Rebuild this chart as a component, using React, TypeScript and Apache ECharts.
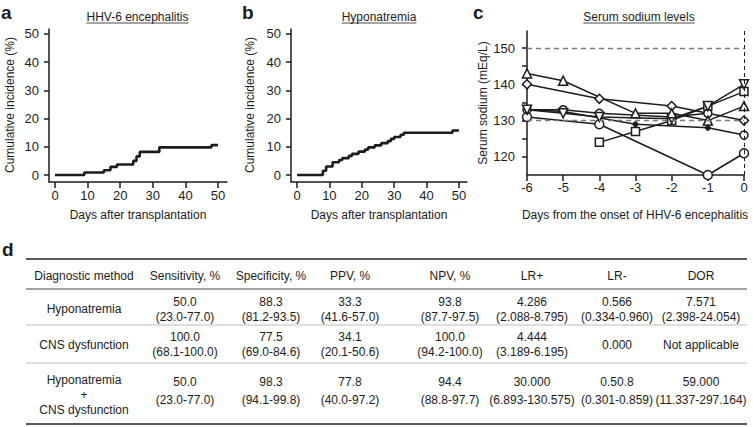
import React, { useEffect, useRef } from 'react';
import * as echarts from 'echarts';

// ---- Data ----
const aDays = [0, 9, 15, 17, 19, 24, 25, 26, 32, 48, 50];
const aIncidence = [0, 0.9, 1.7, 2.9, 3.7, 5.0, 6.6, 8.2, 9.8, 10.6, 10.6];
const bDays = [0, 8, 9, 11, 13, 14, 16, 17, 19, 21, 22, 24, 26, 28, 29, 30, 32, 33, 48, 50];
const bIncidence = [0, 1.5, 3.0, 4.5, 5.3, 6.0, 6.8, 7.5, 8.3, 9.0, 9.8, 10.5, 11.3, 12.0, 12.8, 13.5, 14.3, 15.0, 15.8, 15.8];
const incidenceTicks = [0, 10, 20, 30, 40, 50];
const dayTicks = [0, 10, 20, 30, 40, 50];

const sodiumDays = [-6, -5, -4, -3, -2, -1, 0];
const naTriUp = [143, 141, null, 132, 132, 130, 134];
const naDiamond = [140, null, 136, null, 134, null, 130];
const naTriDown = [133, 132, 131, null, 130.5, 134, 140];
const naSquare = [null, null, 124, 127, 130, 134, 138];
const naCircleA = [131, null, 129, null, null, 115, 121];
const naCircleB = [133, 133, 132, null, 131, 132, null];
const naFilled = [133, 132.5, null, 129, null, 128, 126];
const sodiumTicks = [120, 125, 130, 135, 140, 145, 150];
const sodiumLabels = [120, 130, 140, 150];
const sodiumRefLines = [150, 130];

const tableHeaders = ['Diagnostic method', 'Sensitivity, %', 'Specificity, %', 'PPV, %', 'NPV, %', 'LR+', 'LR-', 'DOR'];
const tableMethods = [['Hyponatremia'], ['CNS dysfunction'], ['Hyponatremia', '+', 'CNS dysfunction']];
const tableEstimates = [
  ['50.0', '88.3', '33.3', '93.8', '4.286', '0.566', '7.571'],
  ['100.0', '77.5', '34.1', '100.0', '4.444', '0.000', 'Not applicable'],
  ['50.0', '98.3', '77.8', '94.4', '30.000', '0.50.8', '59.000'],
];
const tableIntervals = [
  ['(23.0-77.0)', '(81.2-93.5)', '(41.6-57.0)', '(87.7-97.5)', '(2.088-8.795)', '(0.334-0.960)', '(2.398-24.054)'],
  ['(68.1-100.0)', '(69.0-84.6)', '(20.1-50.6)', '(94.2-100.0)', '(3.189-6.195)', '', ''],
  ['(23.0-77.0)', '(94.1-99.8)', '(40.0-97.2)', '(88.8-97.7)', '(6.893-130.575)', '(0.301-0.859)', '(11.337-297.164)'],
];

const FONT = '"Liberation Sans", Arial, Helvetica, sans-serif';
const INK = '#1c1c1c';

function measure(text: string, size: number) {
  const c = document.createElement('canvas').getContext('2d');
  if (!c) return text.length * size * 0.55;
  c.font = `${size}px ${FONT}`;
  return c.measureText(text).width;
}

export default function App() {
  const ref = useRef<HTMLDivElement>(null);
  useEffect(() => {
    if (!ref.current) return;
    const chart = echarts.init(ref.current, undefined, { renderer: 'svg' });

    const axisLine = { show: true, onZero: false, lineStyle: { color: INK, width: 1.5 } };
    const axisLabelBase = { color: INK, fontSize: 13, fontFamily: FONT };

    const pair = (xs: number[], ys: (number | null)[]) =>
      xs.map((x, i) => [x, ys[i]]).filter((p) => p[1] !== null);

    const markerSeries = (ys: (number | null)[], symbol: string, size: number, extra: any = {}) => ({
      type: 'line',
      xAxisIndex: 2,
      yAxisIndex: 2,
      data: pair(sodiumDays, ys),
      symbol,
      symbolSize: size,
      showSymbol: true,
      lineStyle: { color: INK, width: 1.5 },
      itemStyle: { color: '#fff', borderColor: INK, borderWidth: 1.5 },
      z: 3,
      ...extra,
    });

    const filledData = pair(sodiumDays, naFilled).map((p, i, arr) =>
      i === arr.length - 1
        ? { value: p, symbol: 'circle', symbolSize: 8, itemStyle: { color: '#fff', borderColor: INK, borderWidth: 1.5 } }
        : { value: p }
    );

    // graphic elements
    const g: any[] = [];
    const txt = (text: string, x: number, y: number, size: number, opts: any = {}) =>
      g.push({
        type: 'text',
        x,
        y,
        rotation: opts.rotation || 0,
        style: {
          text,
          fontSize: size,
          fontFamily: FONT,
          fontWeight: opts.bold ? 'bold' : 'normal',
          fill: INK,
          align: opts.align || 'center',
          verticalAlign: 'middle',
        },
      });
    const line = (x1: number, y1: number, x2: number, y2: number, color: string, w: number) =>
      g.push({ type: 'line', shape: { x1, y1, x2, y2 }, style: { stroke: color, lineWidth: w } });

    // panel letters
    txt('a', 1, 12, 19, { bold: true, align: 'left' });
    txt('b', 242, 12, 19, { bold: true, align: 'left' });
    txt('c', 473, 12, 19, { bold: true, align: 'left' });
    txt('d', 2, 249, 19, { bold: true, align: 'left' });

    // titles with underline
    const titles: [string, number][] = [
      ['HHV-6 encephalitis', 137.5],
      ['Hyponatremia', 379],
      ['Serum sodium levels', 639],
    ];
    titles.forEach(([t, cx]) => {
      txt(t, cx, 17, 12);
      const w = measure(t, 12);
      line(cx - w / 2, 23, cx + w / 2, 23, INK, 0.8);
    });

    // axis names
    txt('Cumulative incidence (%)', 10, 105, 12, { rotation: Math.PI / 2 });
    txt('Cumulative incidence (%)', 250, 105, 12, { rotation: Math.PI / 2 });
    txt('Serum sodium (mEq/L)', 483, 103, 12, { rotation: Math.PI / 2 });
    txt('Days after transplantation', 138, 215, 12);
    txt('Days after transplantation', 379, 215, 12);
    txt('Days from the onset of HHV-6 encephalitis', 635, 215, 12);

    // table
    const colX = [84, 185, 271, 350, 450, 532, 617, 701];
    const tableLeft = 26;
    const tableRight = 747;
    line(tableLeft, 259, tableRight, 259, '#222', 1.6);
    tableHeaders.forEach((h, i) => txt(h, colX[i], 276, 12));
    line(tableLeft, 289, tableRight, 289, '#444', 1);
    const line1Y = [302, 337, 382];
    const line2Y = [317, 352, 400];
    const centerY = [309, 345, 395];
    const methodLineGap = 15;
    tableMethods.forEach((lines, r) => {
      const start = centerY[r] - ((lines.length - 1) * methodLineGap) / 2;
      lines.forEach((l, k) => txt(l, colX[0], start + k * methodLineGap, 12));
      tableEstimates[r].forEach((v, c) => {
        const iv = tableIntervals[r][c];
        if (iv) {
          txt(v, colX[c + 1], line1Y[r], 12);
          txt(iv, colX[c + 1], line2Y[r], 12);
        } else {
          txt(v, colX[c + 1], centerY[r], 12);
        }
      });
    });
    line(tableLeft, 325, tableRight, 325, '#bdbdbd', 1);
    line(tableLeft, 363, tableRight, 363, '#bdbdbd', 1);
    line(tableLeft, 424, tableRight, 424, '#222', 1.6);

    const option: any = {
      animation: false,
      backgroundColor: '#fff',
      grid: [
        { left: 49, top: 29, width: 178, height: 153 },
        { left: 291, top: 29, width: 176, height: 153 },
        { left: 527, top: 31, width: 217, height: 144 },
      ],
      xAxis: [
        {
          type: 'value', gridIndex: 0, min: -1.84, max: 52.76,
          axisLine, splitLine: { show: false },
          axisTick: { show: true, length: 6, customValues: dayTicks, lineStyle: { color: INK, width: 1.5 } },
          axisLabel: { ...axisLabelBase, margin: 7, customValues: dayTicks },
        },
        {
          type: 'value', gridIndex: 1, min: -1.85, max: 52.5,
          axisLine, splitLine: { show: false },
          axisTick: { show: true, length: 6, customValues: dayTicks, lineStyle: { color: INK, width: 1.5 } },
          axisLabel: { ...axisLabelBase, margin: 7, customValues: dayTicks },
        },
        {
          type: 'value', gridIndex: 2, min: -6, max: 0, interval: 1,
          axisLine, splitLine: { show: false },
          axisTick: { show: true, length: 6, lineStyle: { color: INK, width: 1.5 } },
          axisLabel: { ...axisLabelBase, margin: 6 },
        },
      ],
      yAxis: [
        {
          type: 'value', gridIndex: 0, min: -2.48, max: 51.77,
          axisLine, splitLine: { show: false },
          axisTick: { show: true, length: 5, customValues: incidenceTicks, lineStyle: { color: INK, width: 1.5 } },
          axisLabel: { ...axisLabelBase, margin: 10, customValues: incidenceTicks },
        },
        {
          type: 'value', gridIndex: 1, min: -2.48, max: 51.77,
          axisLine, splitLine: { show: false },
          axisTick: { show: true, length: 5, customValues: incidenceTicks, lineStyle: { color: INK, width: 1.5 } },
          axisLabel: { ...axisLabelBase, margin: 10, customValues: incidenceTicks },
        },
        {
          type: 'value', gridIndex: 2, min: 115, max: 154.7,
          axisLine, splitLine: { show: false },
          axisTick: { show: true, length: 5, customValues: sodiumTicks, lineStyle: { color: INK, width: 1.5 } },
          axisLabel: { ...axisLabelBase, margin: 12, customValues: sodiumLabels },
        },
      ],
      series: [
        {
          type: 'line', xAxisIndex: 0, yAxisIndex: 0, step: 'end', symbol: 'none',
          data: aDays.map((d, i) => [d, aIncidence[i]]),
          lineStyle: { color: INK, width: 2.6 },
        },
        {
          type: 'line', xAxisIndex: 1, yAxisIndex: 1, step: 'end', symbol: 'none',
          data: bDays.map((d, i) => [d, bIncidence[i]]),
          lineStyle: { color: INK, width: 2.6 },
        },
        {
          type: 'line', xAxisIndex: 2, yAxisIndex: 2, data: [], symbol: 'none',
          markLine: {
            silent: true, symbol: ['none', 'none'], label: { show: false },
            data: [
              ...sodiumRefLines.map((v) => ({ yAxis: v, lineStyle: { color: '#7a7a7a', type: [5, 4], width: 1.4 } })),
              { xAxis: 0, lineStyle: { color: INK, type: [4, 3], width: 1 } },
            ],
          },
        },
        markerSeries(naCircleA, 'circle', 9),
        markerSeries(naFilled, 'circle', 5, { data: filledData, itemStyle: { color: INK, borderColor: INK, borderWidth: 1 } }),
        markerSeries(naCircleB, 'circle', 8),
        markerSeries(naSquare, 'rect', 8),
        markerSeries(naTriDown, 'triangle', 9, { symbolRotate: 180 }),
        markerSeries(naDiamond, 'diamond', 9),
        markerSeries(naTriUp, 'triangle', 9),
      ],
      graphic: g,
    };
    chart.setOption(option);
    return () => chart.dispose();
  }, []);
  return <div ref={ref} style={{ position: 'fixed', left: 0, top: 0, width: 753, height: 427, background: '#fff' }} />;
}
